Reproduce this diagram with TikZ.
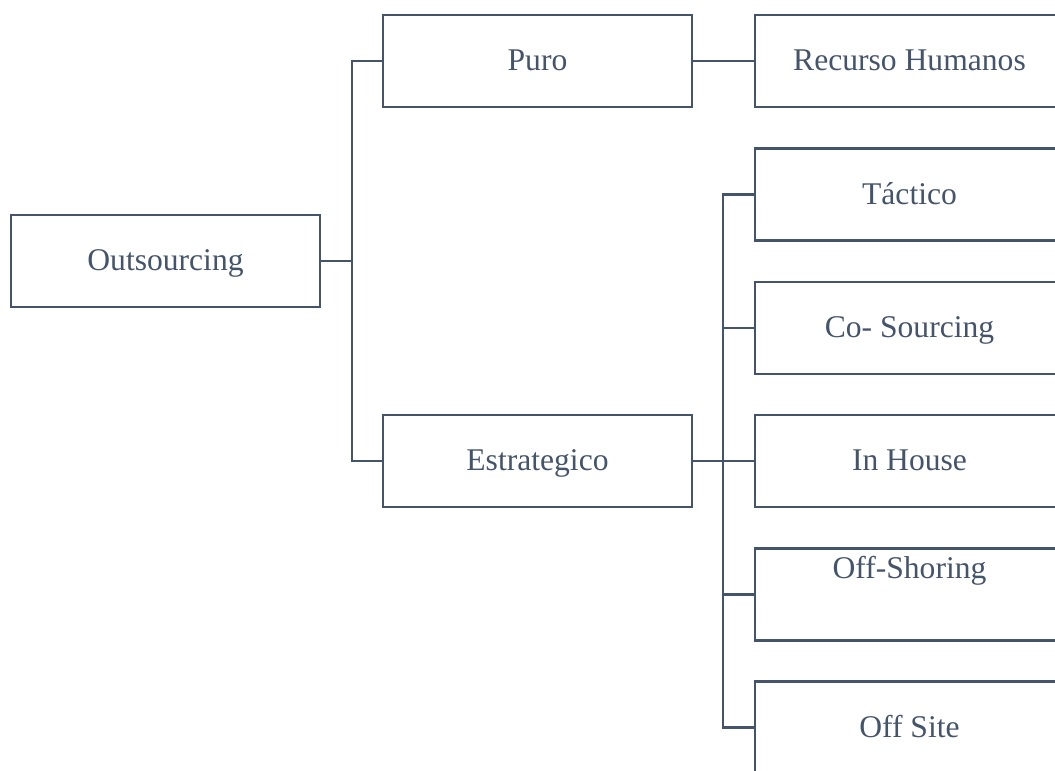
\documentclass[tikz,border=0pt]{standalone}
\usepackage{fontspec}
\setmainfont{Liberation Serif}
\definecolor{slate}{HTML}{44546A}

\begin{document}
\begin{tikzpicture}[x=1pt, y=-1pt,
	box/.style={draw=slate, line width=2.2pt, minimum width=309pt, minimum height=92pt,
		inner sep=0pt, text=slate, text height=19.5pt, text depth=0pt,
		font=\fontsize{31.6}{38}\selectfont},
	wire/.style={draw=slate, line width=2.2pt}]
	\useasboundingbox (0, 0) rectangle (1055, 771);
	\clip (0, 0) rectangle (1055, 771);
	% Boxes:
	\node[box] (outs) at (165.5, 261) {Outsourcing};
	\node[box] (puro) at (537.5, 61) {Puro};
	\node[box] (estr) at (537.5, 461) {Estrategico};
	\node[box] (recu) at (909.5, 61) {Recurso Humanos};
	\node[box] (tact) at (909.5, 194.5) {Táctico};
	\node[box] (coso) at (909.5, 328) {Co- Sourcing};
	\node[box] (inho) at (909.5, 461) {In House};
	\node[box, text depth=52.5pt] (offs) at (909.5, 594.5) {Off-Shoring};
	\node[box] (offt) at (909.5, 727.5) {Off Site};
	% Wires:
	\coordinate (J1) at (352, 261);
	\coordinate (J2) at (723, 461);
	\draw[wire] (outs.east) -- (J1);
	\draw[wire] (puro.west) -| (J1);
	\draw[wire] (estr.west) -| (J1);
	\draw[wire] (puro.east) -- (recu.west);
	\draw[wire] (estr.east) -- (J2);
	\draw[wire] (tact.west) -| (J2);
	\draw[wire] (coso.west) -| (J2);
	\draw[wire] (inho.west) -- (J2);
	\draw[wire] (offs.west) -| (J2);
	\draw[wire] (offt.west) -| (J2);
\end{tikzpicture}
\end{document}
